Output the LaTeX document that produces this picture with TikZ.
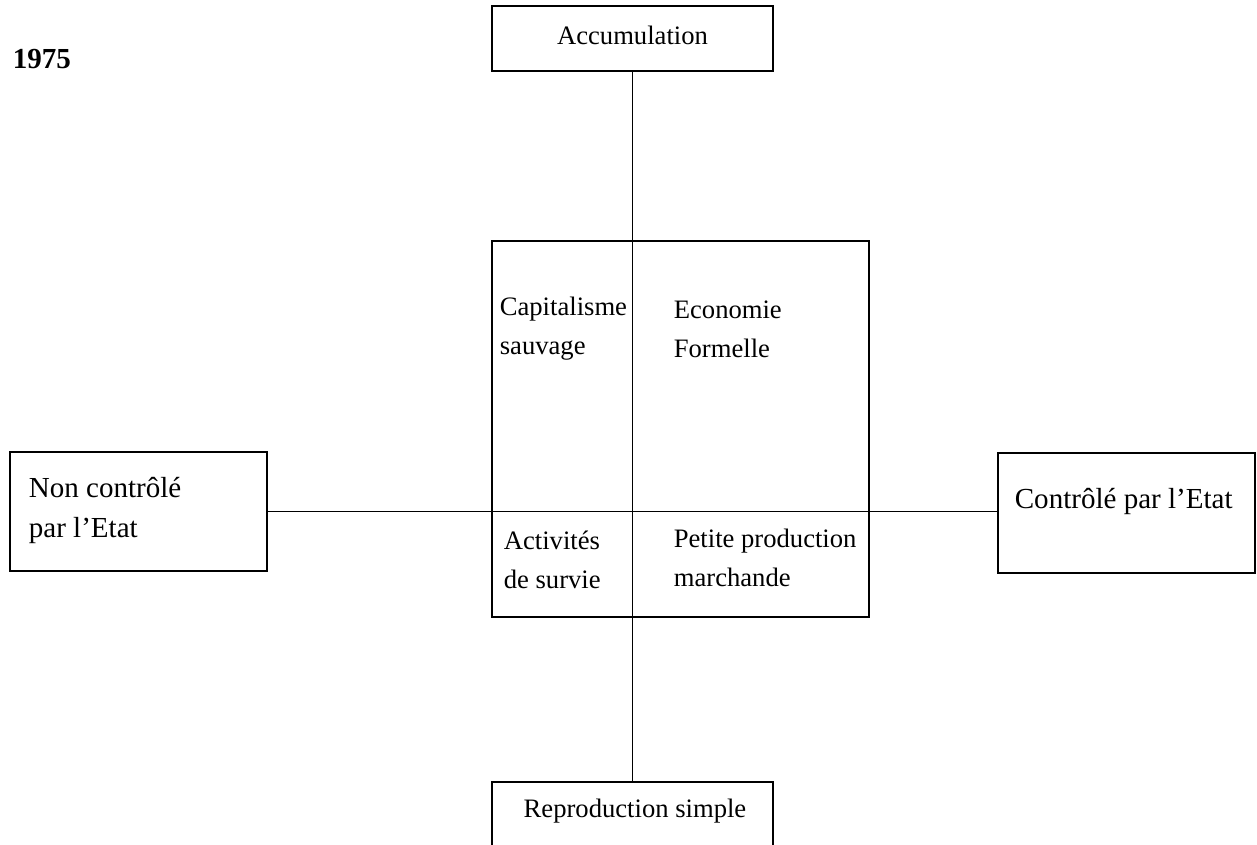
\documentclass[tikz,border=0pt]{standalone}
\usepackage{fontspec}
\setmainfont{Liberation Serif}
\usetikzlibrary{fit,positioning}
\tikzset{
  box/.style={draw, line width=0.7pt, inner sep=0pt, outer sep=0pt},
  txt/.style={inner sep=0pt, anchor=base west, align=left, font=\fontsize{11}{16}\selectfont},
  sidetxt/.style={txt, font=\fontsize{12}{16.5}\selectfont},
}
\begin{document}
\begin{tikzpicture}[x=0.4132pt, y=-0.4132pt, line width=0.7pt]
  \useasboundingbox (0,0) rectangle (1257,845);
  % boxes
  \node[box, fit={(492,6) (773,71)}] (acc) {};
  \node[box, fit={(492,782) (773,880)}] (rep) {};
  \node[box, fit={(10,452) (267,571)}] (nonc) {};
  \node[box, fit={(998,453) (1255,573)}] (ctrl) {};
  \node[box, fit={(492,241) (869,617)}] (core) {};
  % axes
  \draw (acc.south) -- (rep.north);
  \draw (nonc.east) -- (nonc.east -| ctrl.west);
  % texts (base = last line)
  \node[sidetxt, font=\fontsize{12}{16.5}\selectfont\bfseries] (year) at (12,69) {1975};
  \node[txt, anchor=base] (acctxt) at (632.5,45) {Accumulation};
  \node[txt, anchor=base] (reptxt) at (635,817) {Reproduction simple};
  \node[sidetxt] (nonctxt) at (28,537) {Non contrôlé\\par l’Etat};
  \node[sidetxt] (ctrltxt) at (1014,508) {Contrôlé par l’Etat};
  \node[txt] (capi) at (499,354) {Capitalisme\\sauvage};
  \node[txt] (eco) at (673,357) {Economie\\Formelle};
  \node[txt] (surv) at (503,588) {Activités\\de survie};
  \node[txt] (ppm) at (673,586) {Petite production\\marchande};
\end{tikzpicture}
\end{document}
